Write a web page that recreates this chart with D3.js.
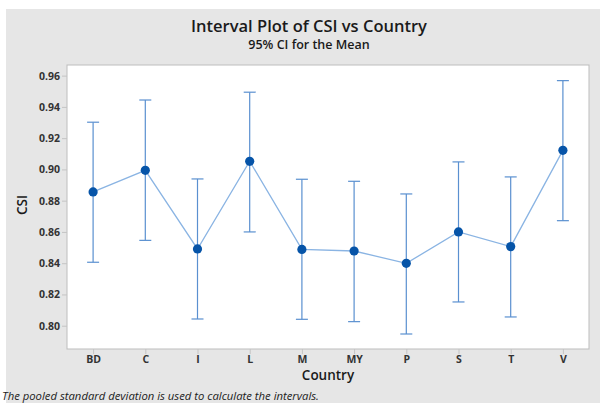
<!DOCTYPE html>
<html>
<head>
<meta charset="utf-8">
<script src="https://cdn.jsdelivr.net/npm/d3@7/dist/d3.min.js"></script>
<style>
  html, body { margin: 0; padding: 0; background: #ffffff; }
  svg { display: block; }
</style>
</head>
<body>
<script>
// ---- data ----
const countries = ["BD", "C", "I", "L", "M", "MY", "P", "S", "T", "V"];
const means = [0.8856, 0.8994, 0.8491, 0.9052, 0.8488, 0.8478, 0.8399, 0.8600, 0.8506, 0.9122];
const upper = [0.9302, 0.9444, 0.8939, 0.9494, 0.8937, 0.8924, 0.8843, 0.9048, 0.8952, 0.9568];
const lower = [0.8406, 0.8546, 0.8043, 0.8600, 0.8041, 0.8026, 0.7947, 0.8152, 0.8056, 0.8672];
const yTicks = [0.80, 0.82, 0.84, 0.86, 0.88, 0.90, 0.92, 0.94, 0.96];

const W = 600, H = 403;
const plot = { left: 67, top: 65, right: 589, bottom: 349 };
const font = "'Open Sans', 'Noto Sans', sans-serif";

const svg = d3.select("body").append("svg").attr("width", W).attr("height", H);

svg.append("rect").attr("x", 6).attr("y", 9).attr("width", W - 6).attr("height", H - 9).attr("fill", "#e6e6e6");
svg.append("rect").attr("x", plot.left).attr("y", plot.top)
  .attr("width", plot.right - plot.left).attr("height", plot.bottom - plot.top)
  .attr("fill", "#ffffff").attr("stroke", "#bdbdbd").attr("stroke-width", 1);

const x = d3.scalePoint().domain(countries).range([plot.left, plot.right]).padding(0.5);
const y = d3.scaleLinear().domain([0.7851, 0.9668]).range([plot.bottom, plot.top]);

// axes
const yAxis = svg.append("g").attr("transform", `translate(${plot.left},0)`)
  .call(d3.axisLeft(y).tickValues(yTicks).tickFormat(d3.format(".2f")).tickSize(5).tickPadding(2));
const xAxis = svg.append("g").attr("transform", `translate(0,${plot.bottom})`)
  .call(d3.axisBottom(x).tickSize(5).tickPadding(2));
[yAxis, xAxis].forEach(g => {
  g.select(".domain").remove();
  g.selectAll(".tick line").attr("stroke", "#c4c4c4");
  g.selectAll(".tick text").attr("fill", "#333").attr("font-family", font)
    .attr("font-size", 10.5).attr("font-weight", 700);
});

// connect line
const data = countries.map((c, i) => ({ c, m: means[i], u: upper[i], l: lower[i] }));
svg.append("path").datum(data)
  .attr("fill", "none").attr("stroke", "#8ab4e3").attr("stroke-width", 1.3)
  .attr("d", d3.line().x(d => x(d.c)).y(d => y(d.m)));

// error bars
const eb = svg.append("g").attr("stroke", "#5a90d0").attr("stroke-width", 1.2);
eb.selectAll("line.v").data(data).join("line").attr("class", "v")
  .attr("x1", d => x(d.c)).attr("x2", d => x(d.c))
  .attr("y1", d => y(d.u)).attr("y2", d => y(d.l));
eb.selectAll("line.u").data(data).join("line").attr("class", "u")
  .attr("x1", d => x(d.c) - 6).attr("x2", d => x(d.c) + 6)
  .attr("y1", d => y(d.u)).attr("y2", d => y(d.u));
eb.selectAll("line.l").data(data).join("line").attr("class", "l")
  .attr("x1", d => x(d.c) - 6).attr("x2", d => x(d.c) + 6)
  .attr("y1", d => y(d.l)).attr("y2", d => y(d.l));

// points
svg.append("g").selectAll("circle").data(data).join("circle")
  .attr("cx", d => x(d.c)).attr("cy", d => y(d.m)).attr("r", 4.6)
  .attr("fill", "#0654a8");

// titles
svg.append("text").attr("x", 309).attr("y", 32).attr("text-anchor", "middle")
  .attr("font-family", font).attr("font-size", 16.5).attr("font-weight", 600).attr("fill", "#1a1a1a")
  .text("Interval Plot of CSI vs Country");
svg.append("text").attr("x", 309).attr("y", 49).attr("text-anchor", "middle")
  .attr("font-family", font).attr("font-size", 12.5).attr("font-weight", 600).attr("fill", "#1a1a1a")
  .text("95% CI for the Mean");
svg.append("text").attr("x", 328).attr("y", 380).attr("text-anchor", "middle")
  .attr("font-family", font).attr("font-size", 13.5).attr("font-weight", 600).attr("fill", "#1a1a1a")
  .text("Country");
svg.append("text").attr("transform", `translate(27,205) rotate(-90)`).attr("text-anchor", "middle")
  .attr("font-family", font).attr("font-size", 13.5).attr("font-weight", 600).attr("fill", "#1a1a1a")
  .text("CSI");
svg.append("text").attr("x", 2).attr("y", 400).attr("text-anchor", "start")
  .attr("font-family", font).attr("font-size", 11.3).attr("font-style", "italic").attr("fill", "#222")
  .text("The pooled standard deviation is used to calculate the intervals.");
</script>
</body>
</html>
